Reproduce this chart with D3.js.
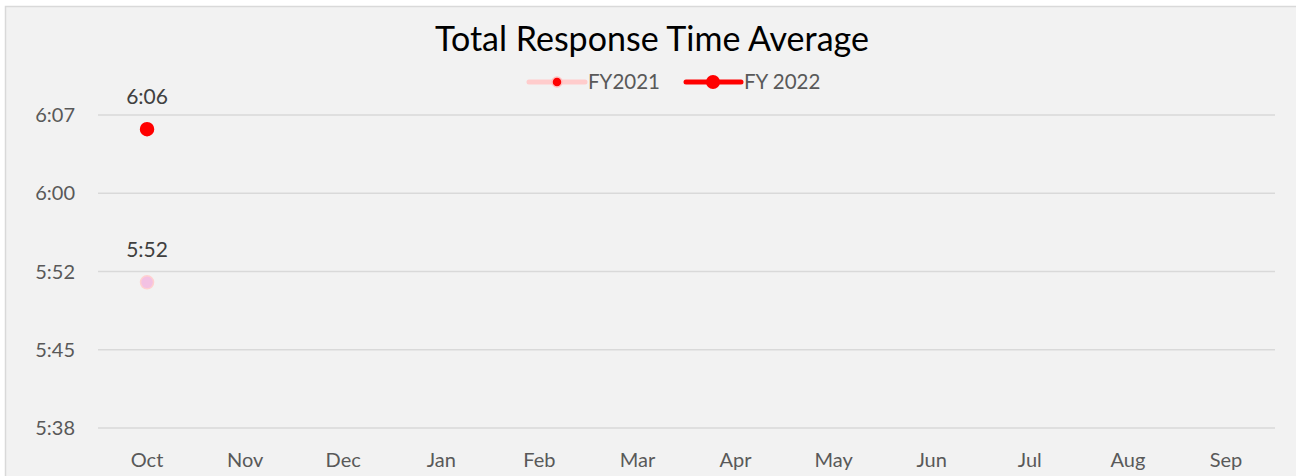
<!DOCTYPE html>
<html>
<head>
<meta charset="utf-8">
<script src="https://cdn.jsdelivr.net/npm/d3@7"></script>
<style>
  body { margin: 0; background: #fff; }
  svg text { font-family: Lato, "Open Sans", sans-serif; }
</style>
</head>
<body>
<div id="chart"></div>
<script>
// Chart Data (seconds)
const months = ["Oct", "Nov", "Dec", "Jan", "Feb", "Mar", "Apr", "May", "Jun", "Jul", "Aug", "Sep"];
const fy2021 = [351.8, null, null, null, null, null, null, null, null, null, null, null];
const fy2022 = [365.9, null, null, null, null, null, null, null, null, null, null, null];
const yTicks = [338.4, 345.6, 352.8, 360.0, 367.2];
const seriesNames = ["FY2021", "FY 2022"];

// Dimensions
let w = 1296, h = 476;
let margin = { left: 98, right: 21, top: 115, bottom: 48 };

let svg = d3.select("#chart").append("svg").attr("width", w).attr("height", h);

// Chart Area Background
svg.append("rect").attr("x", 5.5).attr("y", 6.5).attr("width", w).attr("height", h)
  .attr("fill", "#f2f2f2").attr("stroke", "#d9d9d9").attr("stroke-width", 1.5);

// Scales
let x = d3.scaleBand().domain(months).range([margin.left, w - margin.right]);
let y = d3.scaleLinear().domain([338.4, 367.2]).range([h - margin.bottom, margin.top]);

// Time Formatting
function tickFmt(s) {
  let t = Math.floor(s + 1e-6);
  return Math.floor(t / 60) + ":" + String(t % 60).padStart(2, "0");
}
function labelFmt(s) {
  let t = Math.round(s);
  return Math.floor(t / 60) + ":" + String(t % 60).padStart(2, "0");
}

// Gridlines
svg.append("g").selectAll("line").data(yTicks).enter().append("line")
  .attr("x1", margin.left).attr("x2", w - margin.right)
  .attr("y1", d => y(d)).attr("y2", d => y(d))
  .attr("stroke", "#d9d9d9").attr("stroke-width", 1.5);

// Y Axis Labels
svg.append("g").selectAll("text").data(yTicks).enter().append("text")
  .attr("x", 75).attr("y", d => y(d)).attr("dy", "0.35em")
  .attr("text-anchor", "end").attr("font-size", 20).attr("fill", "#595959")
  .text(tickFmt);

// X Axis Labels
svg.append("g").selectAll("text").data(months).enter().append("text")
  .attr("x", d => x(d) + x.bandwidth() / 2).attr("y", 467)
  .attr("text-anchor", "middle").attr("font-size", 20).attr("fill", "#595959")
  .text(d => d);

// Title
svg.append("text").attr("x", 652).attr("y", 51).attr("text-anchor", "middle")
  .attr("font-size", 34).attr("fill", "#000").text("Total Response Time Average");

// Points And Data Labels
function drawSeries(data, fill, stroke) {
  let pts = data.map((v, i) => ({ m: months[i], v: v })).filter(d => d.v != null);
  let g = svg.append("g");
  g.selectAll("circle").data(pts).enter().append("circle")
    .attr("cx", d => x(d.m) + x.bandwidth() / 2).attr("cy", d => y(d.v))
    .attr("r", 6.5).attr("fill", fill).attr("stroke", stroke).attr("stroke-width", 1.5);
  g.selectAll("text").data(pts).enter().append("text")
    .attr("x", d => x(d.m) + x.bandwidth() / 2).attr("y", d => y(d.v) - 25)
    .attr("text-anchor", "middle").attr("font-size", 21).attr("fill", "#404040")
    .text(d => labelFmt(d.v));
}
drawSeries(fy2021, "#f3c1e3", "#ffd0d0");
drawSeries(fy2022, "#ff0000", "#ff0000");

// Legend
let legend = svg.append("g");
let l1 = legend.append("g").attr("transform", "translate(529,82)");
l1.append("line").attr("x1", 0).attr("x2", 56).attr("stroke", "#ffcccc").attr("stroke-width", 5).attr("stroke-linecap", "round");
l1.append("circle").attr("cx", 28).attr("r", 5).attr("fill", "#ff0000").attr("stroke", "#ffc0c0").attr("stroke-width", 1.5);
l1.append("text").attr("x", 59).attr("dy", "0.35em").attr("font-size", 20.5).attr("fill", "#595959").text(seriesNames[0]);

let l2 = legend.append("g").attr("transform", "translate(686,82)");
l2.append("line").attr("x1", 0).attr("x2", 55).attr("stroke", "#ff0000").attr("stroke-width", 5).attr("stroke-linecap", "round");
l2.append("circle").attr("cx", 27).attr("r", 7).attr("fill", "#ff0000");
l2.append("text").attr("x", 58).attr("dy", "0.35em").attr("font-size", 20.5).attr("fill", "#595959").text(seriesNames[1]);
</script>
</body>
</html>
